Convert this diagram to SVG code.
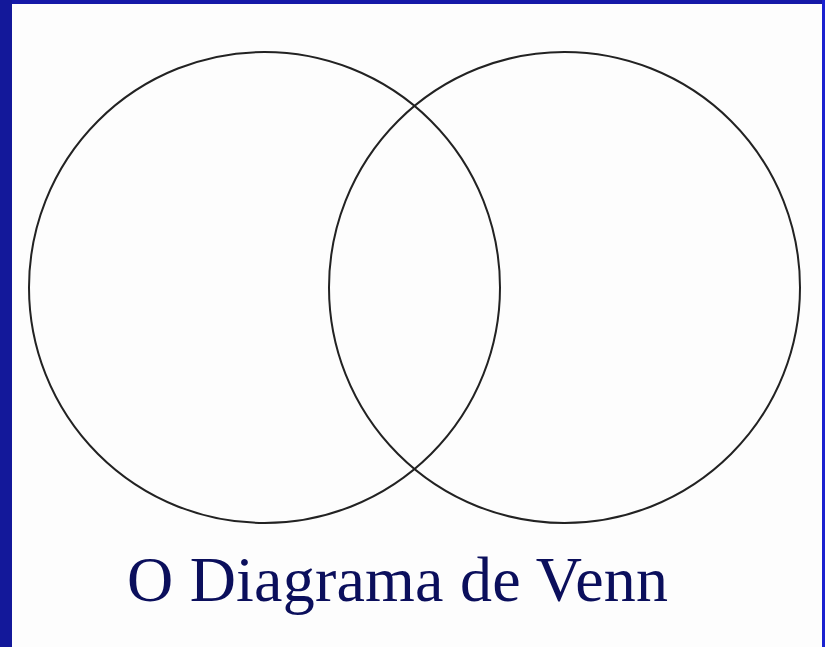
<svg xmlns="http://www.w3.org/2000/svg" width="825" height="647" viewBox="0 0 825 647">
<style>
.c{fill:none;stroke:#222;stroke-width:2}
.t{font-family:"Liberation Serif","Times New Roman",serif;font-size:64px;fill:#0b0f5c}
</style>
<rect x="0" y="0" width="825" height="647" fill="#fdfdfd"/>
<rect x="0" y="0" width="825" height="4" fill="#1519a8"/>
<rect x="0" y="0" width="12" height="647" fill="#13189a"/>
<rect x="822" y="0" width="3" height="647" fill="#1a22d0"/>
<g id="circleA"><circle class="c" cx="264.5" cy="287.5" r="235.5"/></g>
<g id="circleB"><circle class="c" cx="564.5" cy="287.5" r="235.5"/></g>
<g id="title"><text class="t" x="127" y="601" textLength="541" lengthAdjust="spacing">O Diagrama de Venn</text></g>
</svg>
